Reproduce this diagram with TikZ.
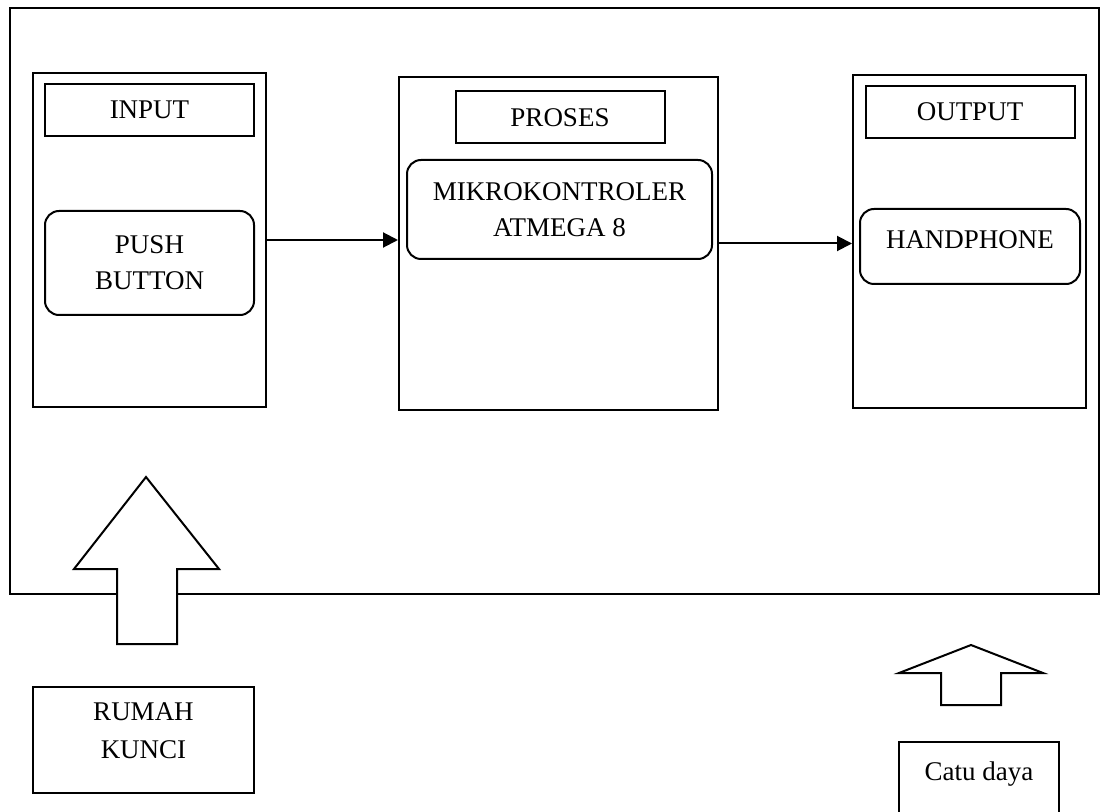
\documentclass[tikz,border=0pt]{standalone}
\usepackage{fontspec}
\setmainfont{Liberation Serif}
\usetikzlibrary{arrows.meta}

\begin{document}
\begin{tikzpicture}[x=0.5pt,y=-0.5pt,line width=1pt,
  font=\fontsize{13.5}{18}\selectfont,
  blok/.style={draw,minimum width=116.5pt,minimum height=167pt},
  judul/.style={draw,minimum width=104.5pt,minimum height=26pt},
  isi/.style={draw,rounded corners=7pt,align=center},
  alur/.style={-{Triangle[length=7.5pt,width=7.5pt]}},
  panah/.style={draw,fill=white,line join=miter}]
  \useasboundingbox (0,0) rectangle (1103,812);

  % bingkai sistem
  \draw (10,8) rectangle (1099,594);

  % blok input
  \node[blok]  (blokIn)  at (149.5,240) {};
  \node[judul] (lblIn)   at (149.5,110) {INPUT};
  \node[isi,minimum width=104.5pt,minimum height=52pt] (push) at (149.5,263) {PUSH\\BUTTON};

  % blok proses
  \node[blok,minimum width=159.5pt,minimum height=166.5pt] (blokPro) at (558.5,243.5) {};
  \node[judul] (lblPro)  at (560,117.5) {PROSES};
  \node[isi,minimum width=152.5pt,minimum height=49.5pt] (mikro) at (559.5,209.5) {MIKROKONTROLER\\ATMEGA 8};

  % blok output
  \node[blok,minimum height=166.5pt] (blokOut) at (969.5,241.5) {};
  \node[judul] (lblOut)  at (970,112) {OUTPUT};
  \node[isi,minimum width=110pt,minimum height=37.5pt,text depth=6.5pt] (hp) at (970,246.5) {HANDPHONE};

  \draw[alur] (blokIn.east) -- (blokIn.east -| blokPro.west);
  \draw[alur] (blokPro.east) -- (blokPro.east -| blokOut.west);

  % rumah kunci dan catu daya
  \node[draw,minimum width=110.5pt,minimum height=53pt] (rumah) at (143.5,740)
    {\raisebox{4pt}[\height][\depth]{\begin{tabular}{@{}c@{}}RUMAH\\[1pt]KUNCI\end{tabular}}};
  \node[draw,anchor=north,minimum width=80pt,inner sep=4pt,text height=15pt,text depth=22pt] (catu) at (979,741) {Catu daya};

  \path[panah] (146,477) -- (219,569) -- (177,569) -- (177,644) -- (117,644) -- (117,569) -- (74,569) -- cycle;
  \path[panah] (971,645) -- (1043,673) -- (1001,673) -- (1001,705) -- (941,705) -- (941,673) -- (899,673) -- cycle;
\end{tikzpicture}
\end{document}
